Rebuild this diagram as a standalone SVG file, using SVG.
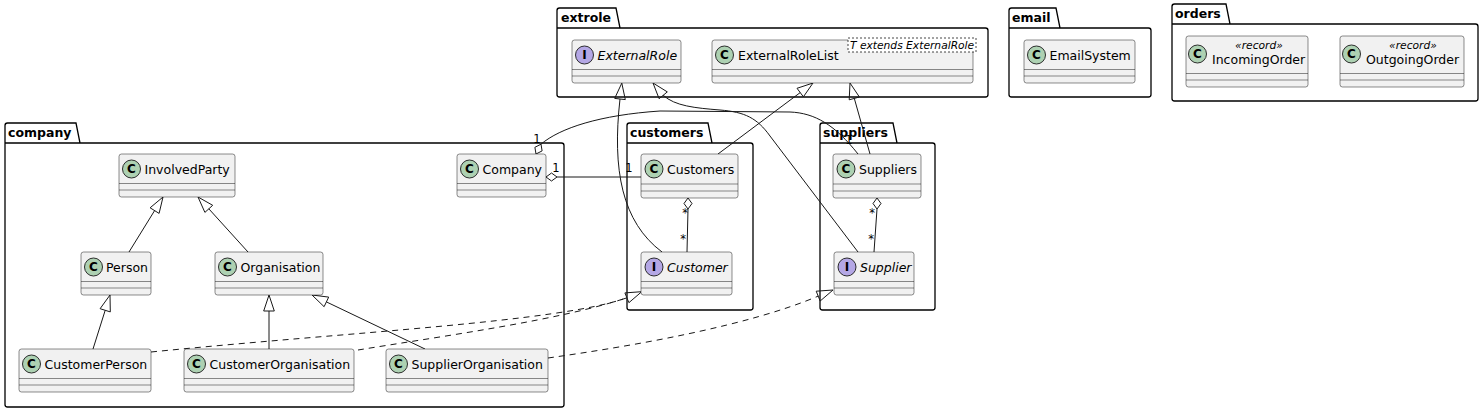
<svg xmlns="http://www.w3.org/2000/svg" width="1481" height="410" viewBox="0 0 1481 410">
<style>
.pkg{fill:none;stroke:#000;stroke-width:1.3}
.pkgl{font:bold 12.5px "DejaVu Sans",sans-serif;fill:#000}
.cls{fill:#F1F1F1;stroke:#181818;stroke-width:0.5}
.sep{stroke:#181818;stroke-width:0.5}
.spc{fill:#ADD1B2;stroke:#181818;stroke-width:0.9}
.spi{fill:#B4A7E5;stroke:#181818;stroke-width:0.9}
.spl{font:bold 12px "DejaVu Sans",sans-serif;text-anchor:middle;fill:#000}
.nm{font:12.5px "DejaVu Sans",sans-serif;fill:#000}
.it{font-style:italic}
.st{font:italic 10.7px "DejaVu Sans",sans-serif;fill:#000;text-anchor:middle}
.tpl{fill:#fff;stroke:#181818;stroke-width:0.8;stroke-dasharray:2,2}
.tplt{font:italic 10.7px "DejaVu Sans",sans-serif;fill:#000}
.rel{fill:none;stroke:#181818;stroke-width:1}
.dash{stroke-dasharray:6,5}
.hd{fill:none;stroke:#181818;stroke-width:1}
.card{font:11.5px "DejaVu Sans",sans-serif;fill:#000;text-anchor:middle}
</style>
<rect width="1481" height="410" fill="#fff"/>

<g id="pkg-extrole">
<path class="pkg" d="M557,28 L557,10.5 Q557,8 559.5,8 L616,8 L620,28 L985.5,28 Q988,28 988,30.5 L988,94.5 Q988,97 985.5,97 L559.5,97 Q557,97 557,94.5 Z M557,28 L620,28"/>
<text class="pkgl" x="561" y="21.5">extrole</text>
</g>
<g id="pkg-email">
<path class="pkg" d="M1009,28 L1009,10.5 Q1009,8 1011.5,8 L1056,8 L1060,28 L1148.5,28 Q1151,28 1151,30.5 L1151,94.5 Q1151,97 1148.5,97 L1011.5,97 Q1009,97 1009,94.5 Z M1009,28 L1060,28"/>
<text class="pkgl" x="1012" y="21.5">email</text>
</g>
<g id="pkg-orders">
<path class="pkg" d="M1172,24 L1172,6.5 Q1172,4 1174.5,4 L1226,4 L1230,24 L1475.5,24 Q1478,24 1478,26.5 L1478,98.5 Q1478,101 1475.5,101 L1174.5,101 Q1172,101 1172,98.5 Z M1172,24 L1230,24"/>
<text class="pkgl" x="1175" y="17.5">orders</text>
</g>
<g id="pkg-company">
<path class="pkg" d="M5,143 L5,125.5 Q5,123 7.5,123 L76,123 L80,143 L561.5,143 Q564,143 564,145.5 L564,404.5 Q564,407 561.5,407 L7.5,407 Q5,407 5,404.5 Z M5,143 L80,143"/>
<text class="pkgl" x="8" y="136.5">company</text>
</g>
<g id="pkg-customers">
<path class="pkg" d="M627,143 L627,125.5 Q627,123 629.5,123 L708,123 L712,143 L750.5,143 Q753,143 753,145.5 L753,307.5 Q753,310 750.5,310 L629.5,310 Q627,310 627,307.5 Z M627,143 L712,143"/>
<text class="pkgl" x="630" y="136.5">customers</text>
</g>
<g id="pkg-suppliers">
<path class="pkg" d="M820,143 L820,125.5 Q820,123 822.5,123 L893,123 L897,143 L932.5,143 Q935,143 935,145.5 L935,307.5 Q935,310 932.5,310 L822.5,310 Q820,310 820,307.5 Z M820,143 L897,143"/>
<text class="pkgl" x="823" y="136.5">suppliers</text>
</g>

<g id="connectors">
<path class="rel" d="M662,252 C622,222 612,170 620,99"/>
<polygon class="hd" points="621.8,83.1 625.3,99.6 614.7,98.4"/>
<path class="rel" d="M858,252 L770,136 C757,118 745,112 720,110 C695,108 675,106 663.2,95.3"/>
<polygon class="hd" points="653,83 667.3,91.9 659.1,98.7"/>
<path class="rel" d="M718,154 L800.2,92.6"/>
<polygon class="hd" points="813,83 803.4,96.8 797,88.3"/>
<path class="rel" d="M870,154 L854.3,98.4"/>
<polygon class="hd" points="850,83 859.4,97 849.2,99.8"/>
<path class="rel" d="M541,144.2 C560,128 600,115 660,111 L790,112 C815,113 835,125 858,154"/>
<polygon class="hd" points="536,154 542.1,150.9 541,144.2 534.9,147.3"/>
<text class="card" x="537" y="143">1</text>
<text class="card" x="849" y="144">1</text>
<path class="rel" d="M557,177 L641,177"/>
<polygon class="hd" points="546,177 551.5,173 557,177 551.5,181"/>
<text class="card" x="556" y="172">1</text>
<text class="card" x="629" y="172">1</text>
<path class="rel" d="M688,209 L687,252"/>
<polygon class="hd" points="688,198 692,203.5 688,209 684,203.5"/>
<text class="card" x="685" y="217">*</text>
<text class="card" x="683" y="243">*</text>
<path class="rel" d="M877,209 L874,252"/>
<polygon class="hd" points="877,198 881,203.5 877,209 873,203.5"/>
<text class="card" x="872" y="217">*</text>
<text class="card" x="871" y="243">*</text>
<path class="rel" d="M129,252 L154.6,210.6"/>
<polygon class="hd" points="163,197 159.1,213.4 150.1,207.8"/>
<path class="rel" d="M248,252 L208.8,208.8"/>
<polygon class="hd" points="198,197 212.7,205.3 204.9,212.4"/>
<path class="rel" d="M93,349 L105.2,310.3"/>
<polygon class="hd" points="110,295 110.3,311.9 100.1,308.7"/>
<path class="rel" d="M269,349 L269,311"/>
<polygon class="hd" points="269,295 274.3,311 263.7,311"/>
<path class="rel" d="M425,349 L326.4,301.9"/>
<polygon class="hd" points="312,295 328.7,297.1 324.1,306.7"/>
<path class="rel dash" d="M151,352 C350,332 560,322 626.9,297.8"/>
<path class="rel dash" d="M358,350 C450,335 560,320 626.9,297.8"/>
<polygon class="hd" points="641.7,291.7 628.9,302.7 624.9,292.9"/>
<path class="rel dash" d="M548,358 C640,345 750,325 818.2,296.1"/>
<polygon class="hd" points="833,290 820.2,301 816.2,291.2"/>
</g>

<g id="ExternalRole">
<rect class="cls" x="572" y="40" width="109" height="43" rx="2.5"/>
<line class="sep" x1="572" y1="69.5" x2="681" y2="69.5"/><line class="sep" x1="572" y1="76" x2="681" y2="76"/>
<circle class="spi" cx="584.5" cy="55" r="9"/><text class="spl" x="584.5" y="59.4">I</text>
<text class="nm it" x="597.5" y="60">ExternalRole</text>
</g>
<g id="ExternalRoleList">
<rect class="cls" x="712" y="40" width="261" height="43" rx="2.5"/>
<line class="sep" x1="712" y1="69.5" x2="973" y2="69.5"/><line class="sep" x1="712" y1="76" x2="973" y2="76"/>
<circle class="spc" cx="724.5" cy="55" r="9"/><text class="spl" x="724.5" y="59.4">C</text>
<text class="nm" x="738" y="60">ExternalRoleList</text>
<rect class="tpl" x="848" y="38" width="128" height="14"/>
<text class="tplt" x="850" y="48.5">T extends ExternalRole</text>
</g>
<g id="EmailSystem">
<rect class="cls" x="1024" y="40" width="111" height="43" rx="2.5"/>
<line class="sep" x1="1024" y1="69.5" x2="1135" y2="69.5"/><line class="sep" x1="1024" y1="76" x2="1135" y2="76"/>
<circle class="spc" cx="1036.5" cy="55" r="9"/><text class="spl" x="1036.5" y="59.4">C</text>
<text class="nm" x="1049.5" y="60">EmailSystem</text>
</g>
<g id="IncomingOrder">
<rect class="cls" x="1186" y="36" width="122" height="51" rx="2.5"/>
<line class="sep" x1="1186" y1="73.5" x2="1308" y2="73.5"/><line class="sep" x1="1186" y1="80" x2="1308" y2="80"/>
<circle class="spc" cx="1197.5" cy="54" r="9"/><text class="spl" x="1197.5" y="58.4">C</text>
<text class="st" x="1259" y="48.5">«record»</text>
<text class="nm" x="1212" y="64">IncomingOrder</text>
</g>
<g id="OutgoingOrder">
<rect class="cls" x="1340" y="36" width="124" height="51" rx="2.5"/>
<line class="sep" x1="1340" y1="73.5" x2="1464" y2="73.5"/><line class="sep" x1="1340" y1="80" x2="1464" y2="80"/>
<circle class="spc" cx="1351.5" cy="54" r="9"/><text class="spl" x="1351.5" y="58.4">C</text>
<text class="st" x="1413" y="48.5">«record»</text>
<text class="nm" x="1366" y="64">OutgoingOrder</text>
</g>
<g id="InvolvedParty">
<rect class="cls" x="119" y="154" width="116" height="43" rx="2.5"/>
<line class="sep" x1="119" y1="183.5" x2="235" y2="183.5"/><line class="sep" x1="119" y1="190" x2="235" y2="190"/>
<circle class="spc" cx="131.5" cy="169" r="9"/><text class="spl" x="131.5" y="173.4">C</text>
<text class="nm" x="144.5" y="174">InvolvedParty</text>
</g>
<g id="Company">
<rect class="cls" x="457" y="154" width="89" height="43" rx="2.5"/>
<line class="sep" x1="457" y1="183.5" x2="546" y2="183.5"/><line class="sep" x1="457" y1="190" x2="546" y2="190"/>
<circle class="spc" cx="469.5" cy="169" r="9"/><text class="spl" x="469.5" y="173.4">C</text>
<text class="nm" x="482.5" y="174">Company</text>
</g>
<g id="Person">
<rect class="cls" x="81" y="252" width="70" height="43" rx="2.5"/>
<line class="sep" x1="81" y1="281.5" x2="151" y2="281.5"/><line class="sep" x1="81" y1="288" x2="151" y2="288"/>
<circle class="spc" cx="93.5" cy="267" r="9"/><text class="spl" x="93.5" y="271.4">C</text>
<text class="nm" x="106" y="272">Person</text>
</g>
<g id="Organisation">
<rect class="cls" x="215" y="252" width="108" height="43" rx="2.5"/>
<line class="sep" x1="215" y1="281.5" x2="323" y2="281.5"/><line class="sep" x1="215" y1="288" x2="323" y2="288"/>
<circle class="spc" cx="227.5" cy="267" r="9"/><text class="spl" x="227.5" y="271.4">C</text>
<text class="nm" x="240.5" y="272">Organisation</text>
</g>
<g id="CustomerPerson">
<rect class="cls" x="19" y="349" width="132" height="43" rx="2.5"/>
<line class="sep" x1="19" y1="378.5" x2="151" y2="378.5"/><line class="sep" x1="19" y1="385" x2="151" y2="385"/>
<circle class="spc" cx="31.5" cy="364" r="9"/><text class="spl" x="31.5" y="368.4">C</text>
<text class="nm" x="44.5" y="369">CustomerPerson</text>
</g>
<g id="CustomerOrganisation">
<rect class="cls" x="184" y="349" width="170" height="43" rx="2.5"/>
<line class="sep" x1="184" y1="378.5" x2="354" y2="378.5"/><line class="sep" x1="184" y1="385" x2="354" y2="385"/>
<circle class="spc" cx="196.5" cy="364" r="9"/><text class="spl" x="196.5" y="368.4">C</text>
<text class="nm" x="209.5" y="369">CustomerOrganisation</text>
</g>
<g id="SupplierOrganisation">
<rect class="cls" x="386" y="349" width="162" height="43" rx="2.5"/>
<line class="sep" x1="386" y1="378.5" x2="548" y2="378.5"/><line class="sep" x1="386" y1="385" x2="548" y2="385"/>
<circle class="spc" cx="398.5" cy="364" r="9"/><text class="spl" x="398.5" y="368.4">C</text>
<text class="nm" x="411.5" y="369">SupplierOrganisation</text>
</g>
<g id="Customers">
<rect class="cls" x="641" y="154" width="97" height="44" rx="2.5"/>
<line class="sep" x1="641" y1="184" x2="738" y2="184"/><line class="sep" x1="641" y1="191" x2="738" y2="191"/>
<circle class="spc" cx="654" cy="169" r="9"/><text class="spl" x="654" y="173.4">C</text>
<text class="nm" x="667" y="174">Customers</text>
</g>
<g id="Customer">
<rect class="cls" x="641" y="252" width="91" height="43" rx="2.5"/>
<line class="sep" x1="641" y1="281.5" x2="732" y2="281.5"/><line class="sep" x1="641" y1="288" x2="732" y2="288"/>
<circle class="spi" cx="654" cy="267" r="9"/><text class="spl" x="654" y="271.4">I</text>
<text class="nm it" x="667" y="272">Customer</text>
</g>
<g id="Suppliers">
<rect class="cls" x="833" y="154" width="88" height="44" rx="2.5"/>
<line class="sep" x1="833" y1="184" x2="921" y2="184"/><line class="sep" x1="833" y1="191" x2="921" y2="191"/>
<circle class="spc" cx="846" cy="169" r="9"/><text class="spl" x="846" y="173.4">C</text>
<text class="nm" x="859" y="174">Suppliers</text>
</g>
<g id="Supplier">
<rect class="cls" x="834" y="252" width="80" height="43" rx="2.5"/>
<line class="sep" x1="834" y1="281.5" x2="914" y2="281.5"/><line class="sep" x1="834" y1="288" x2="914" y2="288"/>
<circle class="spi" cx="847" cy="267" r="9"/><text class="spl" x="847" y="271.4">I</text>
<text class="nm it" x="860" y="272">Supplier</text>
</g>
</svg>
